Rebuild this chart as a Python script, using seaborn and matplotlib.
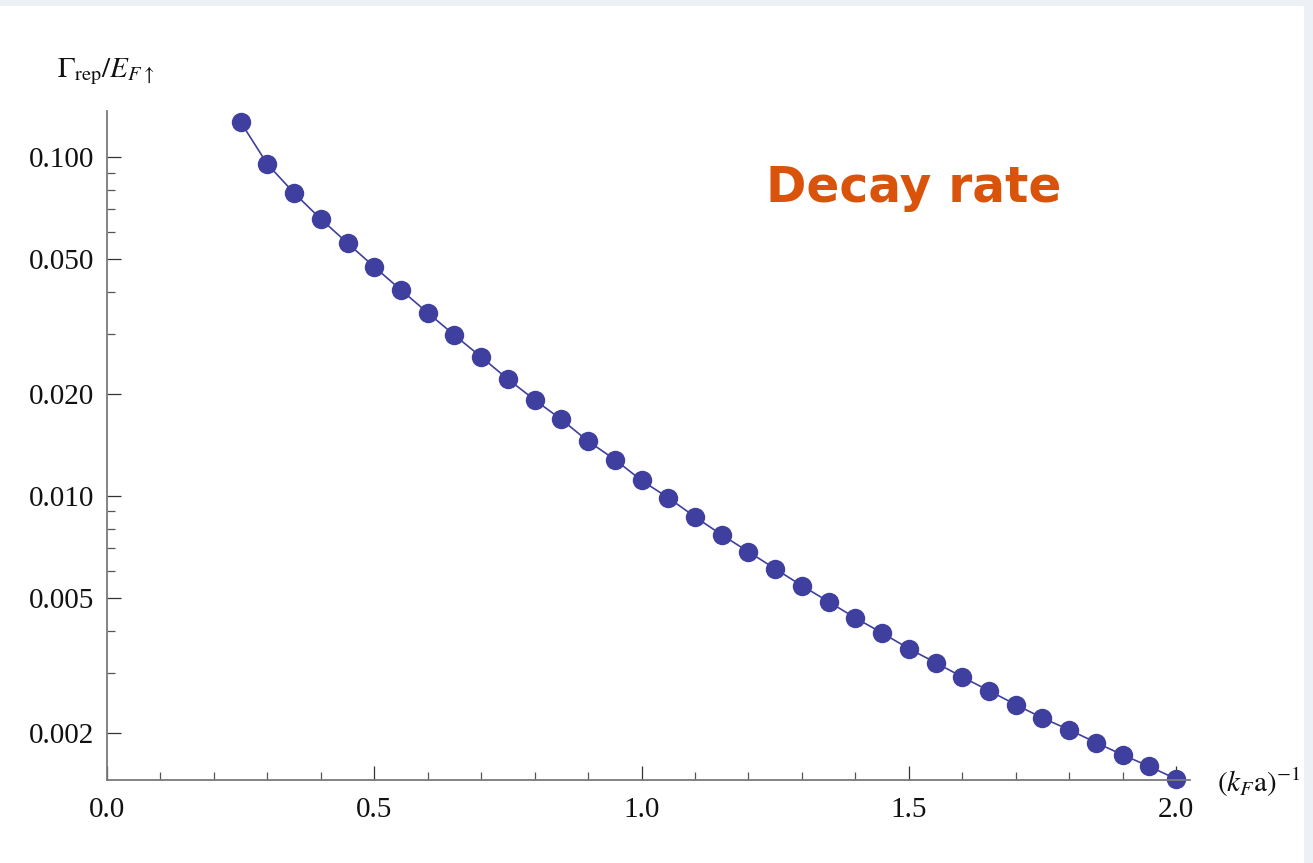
import numpy as np
import pandas as pd
import seaborn as sns
import matplotlib.pyplot as plt
from matplotlib.patches import Rectangle
from matplotlib.ticker import FixedLocator, FixedFormatter, MultipleLocator, LogLocator, NullFormatter

# inverse interaction parameter (k_F a)^-1
inv_kfa = [0.25, 0.30, 0.35, 0.40, 0.45, 0.50, 0.55, 0.60, 0.65, 0.70,
           0.75, 0.80, 0.85, 0.90, 0.95, 1.00, 1.05, 1.10, 1.15, 1.20,
           1.25, 1.30, 1.35, 1.40, 1.45, 1.50, 1.55, 1.60, 1.65, 1.70,
           1.75, 1.80, 1.85, 1.90, 1.95, 2.00]
# decay rate Gamma_rep / E_F
gamma_rep = [0.1268, 0.0953, 0.0783, 0.0656, 0.0557, 0.0474, 0.0405, 0.0347,
             0.0298, 0.0257, 0.0221, 0.0192, 0.0168, 0.0145, 0.0128, 0.0111,
             0.00987, 0.00867, 0.00767, 0.00684, 0.00609, 0.00543, 0.00487,
             0.00436, 0.00394, 0.00354, 0.00322, 0.00292, 0.00266, 0.00242,
             0.00221, 0.00204, 0.00187, 0.00172, 0.00159, 0.00146]

y_ticks = [0.1, 0.05, 0.02, 0.01, 0.005, 0.002]
y_tick_labels = ['0.100', '0.050', '0.020', '0.010', '0.005', '0.002']
x_ticks = [0.0, 0.5, 1.0, 1.5, 2.0]
x_tick_labels = ['0.0', '0.5', '1.0', '1.5', '2.0']

df = pd.DataFrame({'x': inv_kfa, 'y': gamma_rep})

sns.set_style('white')
plt.rcParams['font.family'] = ['Liberation Serif', 'DejaVu Serif']
plt.rcParams['mathtext.fontset'] = 'stix'

W, H = 1313, 863
fig = plt.figure(figsize=(W / 100, H / 100), dpi=100)
fig.patch.set_facecolor('#edf1f5')
fig.patches.append(Rectangle((0, 0), 1304 / W, 1 - 6 / H, transform=fig.transFigure,
                             facecolor='white', edgecolor='none', zorder=-10))

ax = fig.add_axes([107 / W, 1 - 780 / H, (1190 - 107) / W, (780 - 111) / H])
ax.set_zorder(2)
ax.set_facecolor('none')

dot = '#3f3f9f'
sns.lineplot(data=df, x='x', y='y', ax=ax, color=dot, linewidth=1.2,
             marker='o', markersize=14, markeredgewidth=0, clip_on=False)

ax.set_yscale('log')
ax.set_xlim(0, 2.026)
ax.set_ylim(0.00145, 0.1367)

ax.yaxis.set_major_locator(FixedLocator(y_ticks))
ax.yaxis.set_major_formatter(FixedFormatter(y_tick_labels))
ax.yaxis.set_minor_locator(LogLocator(base=10, subs=np.arange(2, 10)))
ax.yaxis.set_minor_formatter(NullFormatter())
ax.xaxis.set_major_locator(FixedLocator(x_ticks))
ax.xaxis.set_major_formatter(FixedFormatter(x_tick_labels))
ax.xaxis.set_minor_locator(MultipleLocator(0.1))

gray = '#7a7a7a'
for s in ['top', 'right']:
    ax.spines[s].set_visible(False)
for s in ['left', 'bottom']:
    ax.spines[s].set_color(gray)
    ax.spines[s].set_linewidth(1.3)

ax.tick_params(which='both', bottom=True, left=True, top=False, right=False)
ax.tick_params(which='major', direction='in', length=10, width=0.9, color='#333333',
               labelsize=21, labelcolor='#111111')
ax.tick_params(which='minor', direction='in', length=6, width=0.9, color='#555555')
ax.tick_params(axis='x', which='major', pad=12)
ax.tick_params(axis='y', which='major', pad=9)

ax.set_xlabel('')
ax.set_ylabel('')
fig.text(57 / W, 1 - 72 / H, r'$\Gamma_{\rm rep}/E_{F\uparrow}$', fontsize=21,
         ha='left', va='center', color='#111111')
fig.text(1217 / W, 1 - 782 / H, r'$(k_F\mathrm{a})^{-1}$', fontsize=21,
         ha='left', va='center', color='#111111')

fig.text(914 / W, 1 - 188 / H, 'Decay rate', fontsize=35, fontweight='bold',
         family=['DejaVu Sans'], color='#d9540a', ha='center', va='center')

fig.savefig('out.png', dpi=100, facecolor=fig.get_facecolor())
